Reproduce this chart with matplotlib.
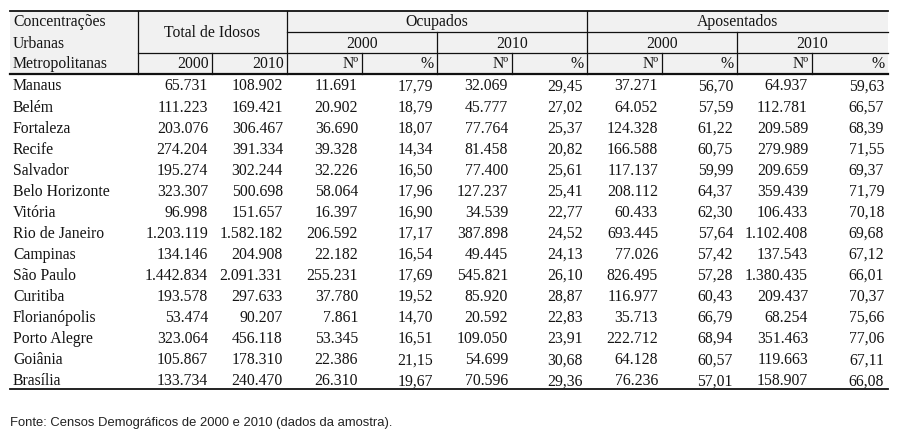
import matplotlib
matplotlib.use("Agg")
import matplotlib.pyplot as plt
from matplotlib import font_manager

cities = ["Manaus", "Belém", "Fortaleza", "Recife", "Salvador", "Belo Horizonte",
          "Vitória", "Rio de Janeiro", "Campinas", "São Paulo", "Curitiba",
          "Florianópolis", "Porto Alegre", "Goiânia", "Brasília"]
total_2000 = [65731, 111223, 203076, 274204, 195274, 323307, 96998, 1203119,
              134146, 1442834, 193578, 53474, 323064, 105867, 133734]
total_2010 = [108902, 169421, 306467, 391334, 302244, 500698, 151657, 1582182,
              204908, 2091331, 297633, 90207, 456118, 178310, 240470]
ocup_2000_n = [11691, 20902, 36690, 39328, 32226, 58064, 16397, 206592,
               22182, 255231, 37780, 7861, 53345, 22386, 26310]
ocup_2000_p = [17.79, 18.79, 18.07, 14.34, 16.50, 17.96, 16.90, 17.17,
               16.54, 17.69, 19.52, 14.70, 16.51, 21.15, 19.67]
ocup_2010_n = [32069, 45777, 77764, 81458, 77400, 127237, 34539, 387898,
               49445, 545821, 85920, 20592, 109050, 54699, 70596]
ocup_2010_p = [29.45, 27.02, 25.37, 20.82, 25.61, 25.41, 22.77, 24.52,
               24.13, 26.10, 28.87, 22.83, 23.91, 30.68, 29.36]
apos_2000_n = [37271, 64052, 124328, 166588, 117137, 208112, 60433, 693445,
               77026, 826495, 116977, 35713, 222712, 64128, 76236]
apos_2000_p = [56.70, 57.59, 61.22, 60.75, 59.99, 64.37, 62.30, 57.64,
               57.42, 57.28, 60.43, 66.79, 68.94, 60.57, 57.01]
apos_2010_n = [64937, 112781, 209589, 279989, 209659, 359439, 106433, 1102408,
               137543, 1380435, 209437, 68254, 351463, 119663, 158907]
apos_2010_p = [59.63, 66.57, 68.39, 71.55, 69.37, 71.79, 70.18, 69.68,
               67.12, 66.01, 70.37, 75.66, 77.06, 67.11, 66.08]

stub_header = ["Concentrações", "Urbanas", "Metropolitanas"]
group_labels = ["Ocupados", "Aposentados"]
year_labels = ["2000", "2010"]
sub_labels = ["Nº", "%"]
source_text = "Fonte: Censos Demográficos de 2000 e 2010 (dados da amostra)."


def fmt_int(v):
    return f"{v:,}".replace(",", ".")


def fmt_pct(v):
    return f"{v:.2f}".replace(".", ",")


available = {f.name for f in font_manager.fontManager.ttflist}
serif = "Liberation Serif" if "Liberation Serif" in available else "DejaVu Serif"
sans = "Liberation Sans" if "Liberation Sans" in available else "DejaVu Sans"

W, H = 900, 446
fig = plt.figure(figsize=(W / 100, H / 100), dpi=100)
ax = fig.add_axes([0, 0, 1, 1])
ax.set_xlim(0, W)
ax.set_ylim(H, 0)
ax.axis("off")

txt_color = "#141414"
fs = 11.3

# layout (pixels)
left, right = 10, 888
y_top, y_r1, y_r2, y_hdr = 11, 32, 53, 74
row0, row_step = 90.5, 21.05
y_bottom = 389
col_edges = [138, 212, 287, 362, 437, 512, 587, 662, 737, 812, 888]
pad = 3
b1, bmid, b2, b3 = 26.5, 37, 47.5, 68.5

# header background
ax.add_patch(plt.Rectangle((left, y_top), right - left, y_hdr - y_top,
                           facecolor="#f1f1f1", edgecolor="none", zorder=0))

lc = "#111111"
ax.plot([left, right], [y_top, y_top], color=lc, lw=1.3)
ax.plot([col_edges[2], right], [y_r1, y_r1], color=lc, lw=0.9)
ax.plot([col_edges[0], right], [y_r2, y_r2], color=lc, lw=0.9)
ax.plot([left, right], [y_hdr, y_hdr], color=lc, lw=1.6)
ax.plot([left, right], [y_bottom, y_bottom], color=lc, lw=1.3)
for x in [col_edges[0], col_edges[2], col_edges[6]]:
    ax.plot([x, x], [y_top, y_hdr], color=lc, lw=0.9)
for x in [col_edges[4], col_edges[8]]:
    ax.plot([x, x], [y_r1, y_hdr], color=lc, lw=0.9)
for x in [col_edges[1], col_edges[3], col_edges[5], col_edges[7], col_edges[9]]:
    ax.plot([x, x], [y_r2, y_hdr], color=lc, lw=0.9)

tkw = dict(fontfamily=serif, fontsize=fs, color=txt_color, va="baseline")

for i, s in enumerate(stub_header):
    ax.text(left + 3, [b1, b2, b3][i], s, ha="left", **tkw)

ax.text((col_edges[0] + col_edges[2]) / 2, bmid, "Total de Idosos", ha="center", **tkw)
for g, lab in enumerate(group_labels):
    x0 = col_edges[2 + 4 * g]
    x1 = col_edges[6 + 4 * g]
    ax.text((x0 + x1) / 2, b1, lab, ha="center", **tkw)
    for k, yl in enumerate(year_labels):
        a = col_edges[2 + 4 * g + 2 * k]
        b = col_edges[4 + 4 * g + 2 * k]
        ax.text((a + b) / 2, b2, yl, ha="center", **tkw)
        for m, sl in enumerate(sub_labels):
            ax.text(col_edges[3 + 4 * g + 2 * k + m] - pad, b3, sl, ha="right", **tkw)
for k, yl in enumerate(year_labels):
    ax.text(col_edges[1 + k] - pad, b3, yl, ha="right", **tkw)

columns = [(total_2000, fmt_int), (total_2010, fmt_int),
           (ocup_2000_n, fmt_int), (ocup_2000_p, fmt_pct),
           (ocup_2010_n, fmt_int), (ocup_2010_p, fmt_pct),
           (apos_2000_n, fmt_int), (apos_2000_p, fmt_pct),
           (apos_2010_n, fmt_int), (apos_2010_p, fmt_pct)]

for i, city in enumerate(cities):
    y = row0 + i * row_step
    ax.text(left + 3, y, city, ha="left", **tkw)
    for j, (vals, f) in enumerate(columns):
        ax.text(col_edges[j + 1] - pad - 1, y, f(vals[i]), ha="right", **tkw)

ax.text(left, 426, source_text, ha="left", va="baseline", fontfamily=sans,
        fontsize=9.4, color="#222222")

fig.savefig("out.png", dpi=100)
